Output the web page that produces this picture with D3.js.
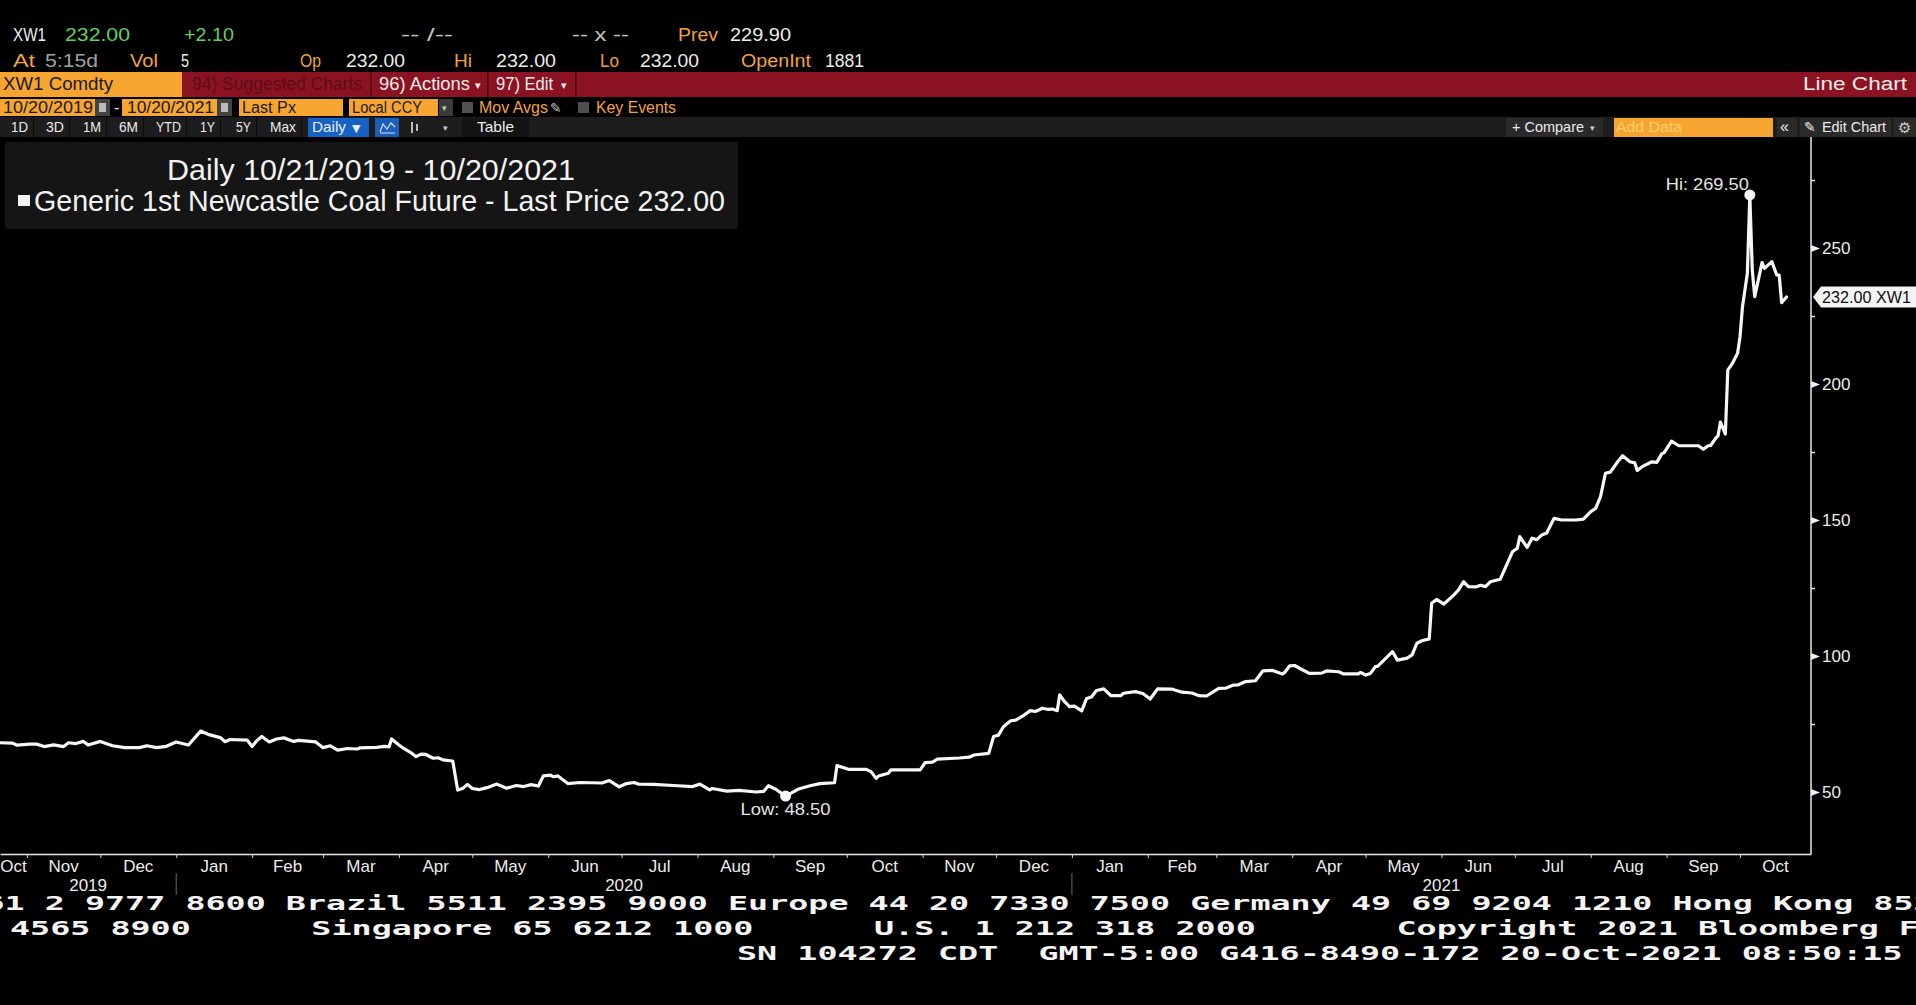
<!DOCTYPE html>
<html>
<head>
<meta charset="utf-8">
<script src="https://cdn.jsdelivr.net/npm/d3@7/dist/d3.min.js"></script>
<style>
  html, body { margin: 0; padding: 0; background: #000; overflow: hidden; }
  svg { display: block; }
  text { font-family: 'Liberation Sans', Arial, sans-serif; }
  .mono { font-family: 'DejaVu Sans Mono', monospace; font-weight: bold; white-space: pre; }
</style>
</head>
<body>
<svg id="chart" width="1916" height="1005"></svg>
<script>
// ---- data ----
var dates = [
  "2019-10-21","2019-10-26","2019-10-28","2019-11-02","2019-11-05","2019-11-08","2019-11-12","2019-11-16",
  "2019-11-18","2019-11-21","2019-11-24","2019-11-26","2019-12-01","2019-12-06","2019-12-11","2019-12-17",
  "2019-12-20","2019-12-24","2019-12-28","2020-01-01","2020-01-06","2020-01-11","2020-01-14","2020-01-19",
  "2020-01-21","2020-01-23","2020-01-30","2020-02-01","2020-02-03","2020-02-05","2020-02-08","2020-02-11",
  "2020-02-14","2020-02-18","2020-02-20","2020-02-27","2020-03-01","2020-03-04","2020-03-07","2020-03-11",
  "2020-03-15","2020-03-16","2020-03-23","2020-03-26","2020-03-28","2020-03-29","2020-04-01","2020-04-03",
  "2020-04-06","2020-04-08","2020-04-10","2020-04-12","2020-04-15","2020-04-17","2020-04-19","2020-04-23",
  "2020-04-25","2020-04-27","2020-04-29","2020-05-01","2020-05-04","2020-05-07","2020-05-11","2020-05-15",
  "2020-05-19","2020-05-22","2020-05-25","2020-05-28","2020-05-30","2020-06-02","2020-06-03","2020-06-05",
  "2020-06-09","2020-06-14","2020-06-23","2020-06-26","2020-06-30","2020-07-03","2020-07-06","2020-07-08",
  "2020-07-14","2020-07-24","2020-07-30","2020-08-02","2020-08-06","2020-08-07","2020-08-13","2020-08-18",
  "2020-08-25","2020-08-28","2020-08-30","2020-09-02","2020-09-06","2020-09-11","2020-09-16","2020-09-20",
  "2020-09-26","2020-09-27","2020-10-02","2020-10-09","2020-10-11","2020-10-13","2020-10-14","2020-10-18",
  "2020-10-19","2020-10-31","2020-11-02","2020-11-05","2020-11-07","2020-11-16","2020-11-20","2020-11-22",
  "2020-11-28","2020-11-30","2020-12-02","2020-12-04","2020-12-07","2020-12-09","2020-12-12","2020-12-15",
  "2020-12-17","2020-12-20","2020-12-22","2020-12-24","2020-12-26","2020-12-27","2020-12-29","2020-12-31",
  "2021-01-02","2021-01-05","2021-01-07","2021-01-09","2021-01-11","2021-01-14","2021-01-17","2021-01-21",
  "2021-01-22","2021-01-27","2021-01-30","2021-02-02","2021-02-05","2021-02-11","2021-02-15","2021-02-19",
  "2021-02-22","2021-02-25","2021-03-02","2021-03-05","2021-03-08","2021-03-10","2021-03-13","2021-03-17",
  "2021-03-20","2021-03-24","2021-03-28","2021-03-29","2021-03-31","2021-04-02","2021-04-04","2021-04-08",
  "2021-04-13","2021-04-15","2021-04-20","2021-04-22","2021-04-28","2021-04-29","2021-05-01","2021-05-03",
  "2021-05-05","2021-05-06","2021-05-12","2021-05-14","2021-05-18","2021-05-20","2021-05-22","2021-05-24",
  "2021-05-27","2021-05-28","2021-05-30","2021-06-02","2021-06-06","2021-06-08","2021-06-10","2021-06-12",
  "2021-06-15","2021-06-17","2021-06-19","2021-06-21","2021-06-25","2021-06-30","2021-07-02","2021-07-03",
  "2021-07-06","2021-07-08","2021-07-10","2021-07-12","2021-07-14","2021-07-17","2021-07-20","2021-07-26",
  "2021-07-29","2021-08-01","2021-08-03","2021-08-05","2021-08-07","2021-08-09","2021-08-12","2021-08-14",
  "2021-08-17","2021-08-19","2021-08-20","2021-08-22","2021-08-26","2021-08-28","2021-08-30","2021-08-31",
  "2021-09-03","2021-09-06","2021-09-14","2021-09-16","2021-09-18","2021-09-19","2021-09-21","2021-09-22",
  "2021-09-23","2021-09-25","2021-09-26","2021-09-28","2021-09-30","2021-10-01","2021-10-02","2021-10-04",
  "2021-10-05","2021-10-06","2021-10-07","2021-10-10","2021-10-11","2021-10-14","2021-10-16","2021-10-17",
  "2021-10-18","2021-10-20"
]

var prices = [
  68.1, 68.0, 67.2, 67.6, 67.6, 66.7, 67.3, 66.7,
  68.1, 67.8, 68.6, 67.3, 68.6, 67.0, 66.3, 66.3,
  67.0, 66.3, 66.8, 68.4, 67.3, 72.4, 71.2, 70.0,
  68.5, 69.3, 69.1, 66.7, 68.9, 70.4, 68.4, 69.5,
  69.9, 68.6, 69.0, 68.4, 66.3, 67.0, 65.4, 66.0,
  65.8, 66.2, 66.4, 66.8, 66.6, 69.5, 67.3, 66.0,
  64.4, 63.0, 63.9, 63.8, 62.4, 62.6, 61.8, 61.4,
  50.7, 51.3, 52.8, 51.3, 50.9, 51.6, 52.9, 51.4,
  52.4, 52.0, 52.7, 52.2, 55.9, 56.2, 55.6, 55.9,
  53.1, 53.5, 53.3, 54.2, 51.9, 53.1, 53.5, 52.9,
  52.8, 52.3, 52.0, 52.9, 50.8, 51.3, 50.3, 50.6,
  50.0, 50.2, 52.3, 51.0, 48.5, 51.0, 52.3, 53.1,
  53.4, 59.7, 58.3, 58.3, 57.4, 55.0, 55.9, 56.9,
  58.1, 58.1, 60.8, 61.0, 62.1, 62.5, 62.8, 63.6,
  64.2, 70.4, 70.9, 74.0, 76.2, 76.4, 78.0, 79.9,
  79.6, 80.8, 80.4, 80.5, 79.9, 85.7, 83.2, 81.4,
  81.6, 79.8, 84.4, 84.9, 87.3, 87.9, 85.4, 85.4,
  86.3, 86.9, 86.2, 84.2, 87.9, 87.8, 86.7, 86.4,
  85.4, 85.3, 88.1, 88.2, 89.3, 89.4, 90.6, 90.9,
  94.5, 94.7, 93.4, 94.0, 96.4, 96.5, 95.5, 93.6,
  93.7, 94.5, 94.2, 93.4, 93.4, 94.0, 93.0, 93.6,
  96.1, 96.3, 101.6, 98.5, 99.2, 100.4, 104.7, 105.6,
  106.3, 119.4, 120.8, 119.1, 122.4, 124.3, 127.3, 125.5,
  125.4, 126.0, 125.5, 127.3, 128.2, 138.3, 139.6, 143.9,
  139.9, 143.3, 142.8, 144.5, 145.2, 150.6, 150.0, 150.0,
  150.3, 153.1, 154.3, 158.6, 167.2, 167.6, 171.4, 173.6,
  171.4, 171.0, 168.2, 169.6, 171.4, 171.2, 174.3, 174.8,
  179.0, 177.3, 177.3, 176.0, 177.3, 177.4, 180.0, 180.9,
  186.0, 181.6, 205.1, 207.8, 211.3, 217.4, 228.4, 240.7,
  269.5, 241.9, 232.1, 244.6, 242.5, 245.0, 240.1, 240.0,
  229.9, 232.0
]

var yTicks = [50, 75, 100, 125, 150, 175, 200, 225, 250, 275]
var yLabelled = [50, 100, 150, 200, 250]
var lastPrice = 232.00
var ticker = "XW1"

var legendTitle = "Daily 10/21/2019 - 10/20/2021"
var legendSeries = "Generic 1st Newcastle Coal Future - Last Price 232.00"

var footerLines = [
  "Australia 61 2 9777 8600 Brazil 5511 2395 9000 Europe 44 20 7330 7500 Germany 49 69 9204 1210 Hong Kong 852 2977 6000",
  "Japan 81 3 4565 8900      Singapore 65 6212 1000      U.S. 1 212 318 2000       Copyright 2021 Bloomberg Finance L.P.",
  "SN 104272 CDT  GMT-5:00 G416-8490-172 20-Oct-2021 08:50:15"
]

// ---- colours ----
var ORANGE = "#f3a33b"
var ORANGE_BOX = "#f7a531"
var GREEN = "#5fd25f"
var RED_BAR = "#8b1221"
var WHITE = "#ececec"

var svg = d3.select("#chart")

function label(g, s, x, y, o) {
  o = o || {}
  var t = g.append("text")
    .attr("x", x)
    .attr("y", y)
    .attr("fill", o.fill || WHITE)
    .attr("font-size", o.size || 17)
    .text(s)
  if (o.anchor) t.attr("text-anchor", o.anchor)
  if (o.w) t.attr("textLength", o.w).attr("lengthAdjust", "spacingAndGlyphs")
  if (o.family) t.style("font-family", o.family)
  return t
}

function box(g, x, y, w, h, fill) {
  return g.append("rect").attr("x", x).attr("y", y).attr("width", w).attr("height", h).attr("fill", fill)
}

// ---- header rows ----
function draw_header() {
  var g = svg.append("g")

  var row1 = [
    ["XW1", 13, 33, WHITE], ["232.00", 65, 65, GREEN], ["+2.10", 184, 50, GREEN],
    ["-- /--", 401, 52, "#c4c4c4"], ["-- x --", 572, 57, "#c4c4c4"],
    ["Prev", 678, 40, ORANGE], ["229.90", 730, 61, WHITE]
  ]
  row1.forEach(function (d) { label(g, d[0], d[1], 41, {w: d[2], fill: d[3], size: 18}) })

  var row2 = [
    ["At", 13, 22, ORANGE], ["5:15d", 45, 53, "#a0a0a0"], ["Vol", 130, 28, ORANGE], ["5", 181, 8, WHITE],
    ["Op", 300, 21, ORANGE], ["232.00", 346, 59, WHITE], ["Hi", 454, 18, ORANGE], ["232.00", 496, 60, WHITE],
    ["Lo", 600, 19, ORANGE], ["232.00", 640, 59, WHITE], ["OpenInt", 741, 70, ORANGE], ["1881", 825, 39, WHITE]
  ]
  row2.forEach(function (d) { label(g, d[0], d[1], 67, {w: d[2], fill: d[3], size: 18}) })

  // red command bar
  box(g, 0, 72, 1916, 25, RED_BAR)
  box(g, 0, 72, 182, 25, ORANGE_BOX)
  label(g, "XW1 Comdty", 3, 90, {w: 110, fill: "#1a1a1a", size: 18})
  label(g, "94) Suggested Charts", 192, 90, {w: 170, fill: "#5e0c17", size: 18})
  box(g, 370, 72, 1.5, 25, "#4a0810")
  box(g, 487, 72, 1.5, 25, "#4a0810")
  box(g, 575, 72, 1.5, 25, "#4a0810")
  label(g, "96) Actions", 379, 90, {w: 91, size: 18})
  label(g, "▾", 475, 89, {size: 11, family: "DejaVu Sans"})
  label(g, "97) Edit", 496, 90, {w: 57, size: 18})
  label(g, "▾", 561, 89, {size: 11, family: "DejaVu Sans"})
  label(g, "Line Chart", 1907, 90, {w: 104, size: 18, anchor: "end"})

  // date range row
  box(g, 0, 99, 95, 17, ORANGE_BOX)
  box(g, 95, 99, 15, 17, "#444")
  box(g, 99, 103, 7, 9, "#bbb")
  label(g, "10/20/2019", 3, 113, {w: 90, fill: "#1a1a1a", size: 16})
  label(g, "-", 114, 113, {size: 16})
  box(g, 122, 99, 95, 17, ORANGE_BOX)
  box(g, 217, 99, 15, 17, "#444")
  box(g, 221, 103, 7, 9, "#bbb")
  label(g, "10/20/2021", 127, 113, {w: 87, fill: "#1a1a1a", size: 16})
  box(g, 239, 99, 104, 17, ORANGE_BOX)
  label(g, "Last Px", 242, 113, {w: 54, fill: "#1a1a1a", size: 16})
  box(g, 349, 99, 89, 17, ORANGE_BOX)
  label(g, "Local CCY", 352, 113, {w: 70, fill: "#1a1a1a", size: 16})
  box(g, 439, 99, 14, 17, "#3a3a3a")
  label(g, "▾", 442, 111, {size: 9, family: "DejaVu Sans", fill: "#ccc"})
  box(g, 462, 102, 11, 11, "#505050")
  label(g, "Mov Avgs", 479, 113, {w: 69, fill: ORANGE, size: 16})
  label(g, "✎", 550, 113, {size: 14, family: "DejaVu Sans", fill: "#bbb"})
  box(g, 578, 102, 11, 11, "#505050")
  label(g, "Key Events", 596, 113, {w: 80, fill: ORANGE, size: 16})

  // period buttons row
  box(g, 0, 117, 1916, 20, "#1d1d1d")
  var periods = [["1D", 11, 17], ["3D", 46, 18], ["1M", 83, 18], ["6M", 119, 19], ["YTD", 156, 25],
                 ["1Y", 200, 15], ["5Y", 236, 15], ["Max", 270, 26]]
  periods.forEach(function (d) {
    label(g, d[0], d[1], 132, {w: d[2], size: 15})
    box(g, d[1] + d[2] + 5, 117, 1, 20, "#0c0c0c")
  })
  box(g, 308, 118, 61, 19, "#1562c4")
  label(g, "Daily", 312, 132, {w: 34, size: 15})
  label(g, "▼", 352, 132, {size: 11, family: "DejaVu Sans"})
  box(g, 375, 118, 24, 19, "#1b5fb8")
  g.append("path").attr("d", "M380,132 L383,124 L387,129 L391,123 L395,127 M380,133 H395")
    .attr("fill", "none").attr("stroke", "#cfe0ff").attr("stroke-width", 1.2)
  g.append("path").attr("d", "M412,122 V133 M417,124 V131").attr("stroke", "#bbb").attr("stroke-width", 2)
  label(g, "▾", 443, 131, {size: 9, family: "DejaVu Sans", fill: "#ccc"})
  box(g, 462, 118, 67, 19, "#141414")
  label(g, "Table", 477, 132, {w: 37, size: 15})

  box(g, 1506, 118, 97, 19, "#2a2a2a")
  label(g, "+ Compare", 1512, 132, {w: 72, size: 15})
  label(g, "▾", 1590, 131, {size: 9, family: "DejaVu Sans", fill: "#ccc"})
  box(g, 1614, 118, 159, 19, ORANGE_BOX)
  label(g, "Add Data", 1616, 132, {w: 66, fill: "#ffcf70", size: 15})
  box(g, 1777, 118, 20, 19, "#2a2a2a")
  label(g, "«", 1780, 132, {size: 16})
  box(g, 1800, 118, 91, 19, "#2a2a2a")
  label(g, "✎", 1804, 132, {size: 14, family: "DejaVu Sans"})
  label(g, "Edit Chart", 1822, 132, {w: 64, size: 15})
  box(g, 1894, 118, 22, 19, "#2a2a2a")
  label(g, "⚙", 1898, 133, {size: 15, family: "DejaVu Sans", fill: "#ccc"})
}

// ---- chart ----
var plotLeft = 0, plotRight = 1811, plotTop = 137, plotBottom = 854

var parse = d3.timeParse("%Y-%m-%d")
var series = dates.map(function (d, i) { return {date: parse(d), price: prices[i]} })

var startDate = parse("2019-10-21")
var endDate = parse("2021-10-30")   // the plot runs a few days past the last print

var x = d3.scaleTime()
  .domain([startDate, endDate])
  .range([plotLeft, plotRight])

var y = d3.scaleLinear()
  .domain([50, 250])
  .range([792, 248])

function draw_chart() {
  var g = svg.append("g")

  // x axis: month ticks along the bottom
  var xAxis = d3.axisBottom(x)
    .tickValues(d3.timeMonth.range(d3.timeMonth.ceil(startDate), endDate))
    .tickSize(4)
    .tickSizeOuter(0)
    .tickFormat("")

  var gx = g.append("g").attr("transform", "translate(0," + plotBottom + ")").call(xAxis)
  gx.select(".domain").attr("stroke", "#e8e8e8").attr("stroke-width", 1.5)
  gx.selectAll(".tick line").attr("stroke", "#cfcfcf")

  // month names centred in each month's span
  var fmt = d3.timeFormat("%b")
  d3.timeMonth.range(d3.timeMonth.floor(startDate), endDate).forEach(function (m) {
    var a = m < startDate ? startDate : m
    var b = d3.timeMonth.offset(m, 1)
    if (b > endDate) b = endDate
    label(g, fmt(m), (x(a) + x(b)) / 2, 872, {anchor: "middle", size: 17})
  })

  // years and their dividers
  d3.timeYear.range(d3.timeYear.floor(startDate), endDate).forEach(function (yr) {
    var a = yr < startDate ? startDate : yr
    var b = d3.timeYear.offset(yr, 1)
    if (b > endDate) b = endDate
    label(g, yr.getFullYear(), (x(a) + x(b)) / 2, 891, {anchor: "middle", size: 17})
    if (yr >= startDate) {
      g.append("line").attr("x1", x(yr)).attr("x2", x(yr)).attr("y1", 873).attr("y2", 895)
        .attr("stroke", "#6a6a6a").attr("stroke-width", 1)
    }
  })

  // right axis
  g.append("line")
    .attr("x1", plotRight).attr("x2", plotRight)
    .attr("y1", plotTop).attr("y2", plotBottom)
    .attr("stroke", "#e8e8e8").attr("stroke-width", 1.5)

  var yAxis = d3.axisRight(y)
    .tickValues(yTicks)
    .tickSize(4)
    .tickFormat(function (d) { return yLabelled.indexOf(d) >= 0 ? d : "" })

  var gy = g.append("g").attr("transform", "translate(" + plotRight + ",0)").call(yAxis)
  gy.select(".domain").remove()
  gy.selectAll(".tick line").attr("stroke", "#e8e8e8").attr("stroke-width", 1.5)
  gy.selectAll(".tick text")
    .attr("x", 11)
    .attr("fill", WHITE)
    .attr("font-size", 17)
    .style("font-family", "'Liberation Sans', Arial, sans-serif")
  gy.selectAll(".tick").filter(function (d) { return yLabelled.indexOf(d) >= 0 })
    .append("path")
    .attr("d", "M0,-3.5 L9,0 L0,3.5 Z")
    .attr("fill", "#f0f0f0")

  // price line
  var line = d3.line()
    .x(function (d) { return x(d.date) })
    .y(function (d) { return y(d.price) })

  g.append("path")
    .datum(series)
    .attr("d", line)
    .attr("fill", "none")
    .attr("stroke", "#f6f6f6")
    .attr("stroke-width", 3.2)
    .attr("stroke-linejoin", "round")
    .attr("stroke-linecap", "round")

  // high / low markers
  var hi = series[d3.maxIndex(series, function (d) { return d.price })]
  var lo = series[d3.minIndex(series, function (d) { return d.price })]

  g.append("circle").attr("cx", x(hi.date)).attr("cy", y(hi.price)).attr("r", 5.5).attr("fill", "#f6f6f6")
  label(g, "Hi: " + hi.price.toFixed(2), x(hi.date) - 1, y(hi.price) - 5, {anchor: "end", w: 83, size: 17, fill: "#e4e4e4"})

  g.append("circle").attr("cx", x(lo.date)).attr("cy", y(lo.price)).attr("r", 5.5).attr("fill", "#f6f6f6")
  label(g, "Low: " + lo.price.toFixed(2), x(lo.date), y(lo.price) + 19, {anchor: "middle", w: 90, size: 17, fill: "#e4e4e4"})

  // last price tag
  var ly = y(lastPrice)
  g.append("path")
    .attr("d", "M" + (plotRight + 2) + "," + ly + " L" + (plotRight + 10) + "," + (ly - 10.5) +
               " H1916 V" + (ly + 10.5) + " H" + (plotRight + 10) + " Z")
    .attr("fill", "#f4f4f4")
  label(g, lastPrice.toFixed(2) + " " + ticker, 1822, ly + 6, {w: 89, size: 17, fill: "#111"})
}

// ---- legend box ----
function draw_legend() {
  var g = svg.append("g")
  g.append("rect").attr("x", 5).attr("y", 142).attr("width", 733).attr("height", 87)
    .attr("rx", 3).attr("fill", "#151515")
  label(g, legendTitle, 371, 180, {anchor: "middle", w: 408, size: 29, fill: "#f2f2f2"})
  box(g, 18, 195, 12, 11, "#f2f2f2")
  label(g, legendSeries, 34, 211, {w: 691, size: 29, fill: "#f2f2f2"})
}

// ---- footer in the terminal font ----
function draw_footer() {
  var g = svg.append("g")
  var charW = 20.1
  var starts = [286 - 25 * charW, 10 - 11 * charW, 737]
  var bases = [910, 935, 960]
  footerLines.forEach(function (s, i) {
    g.append("g")
      .attr("transform", "translate(" + starts[i] + "," + bases[i] + ") scale(1.757,1)")
      .append("text")
      .attr("class", "mono")
      .attr("xml:space", "preserve")
      .attr("font-size", 19)
      .attr("fill", "#f4f4f4")
      .text(s)
  })
}

draw_header()
draw_chart()
draw_legend()
draw_footer()
</script>
</body>
</html>
